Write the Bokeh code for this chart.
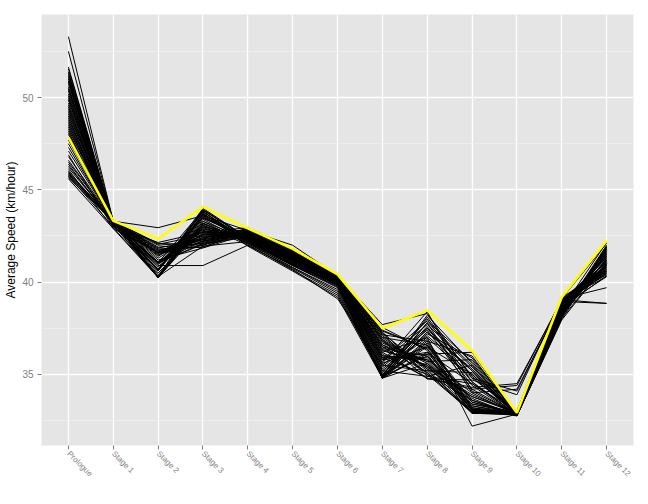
import math
from bokeh.plotting import figure
from bokeh.models import FactorRange, Range1d, FixedTicker
from bokeh.embed import file_html
from bokeh.resources import INLINE

stages = ["Prologue", "Stage 1", "Stage 2", "Stage 3", "Stage 4", "Stage 5", "Stage 6",
          "Stage 7", "Stage 8", "Stage 9", "Stage 10", "Stage 11", "Stage 12"]

# Highlighted rider (yellow)
leader = [47.85, 43.32, 42.35, 44.08, 42.92, 41.8, 40.42, 37.5, 38.47, 36.3, 32.92, 39.18, 42.25]

# Other riders, one list per stage (same rider order in each list)
prologue = [53.3, 52.5, 51.65, 51.55, 51.4, 51.3, 51.2, 51.1, 51.0, 50.9,
            50.85, 50.75, 50.6, 50.5, 50.45, 50.35, 50.2, 50.1, 50.0, 49.9,
            49.85, 49.7, 49.6, 49.5, 49.4, 49.3, 49.2, 49.1, 49.0, 48.9,
            48.8, 48.7, 48.6, 48.5, 48.4, 48.3, 48.2, 48.1, 48.0, 47.7,
            47.5, 47.3, 47.1, 46.9, 46.8, 46.6, 46.5, 46.4, 46.3, 46.2,
            46.1, 46.0, 45.95, 45.9, 45.85, 45.8, 45.75, 45.7, 45.65, 45.6]
stage1 = [43.3, 43.3, 43.3, 43.28, 43.3, 43.3, 43.25, 43.3, 43.3, 43.2,
          43.3, 43.3, 43.28, 43.3, 43.3, 43.15, 43.3, 43.3, 43.3, 43.25,
          43.3, 43.3, 43.1, 43.3, 43.3, 43.3, 43.28, 43.3, 43.05, 43.3,
          43.3, 43.3, 43.2, 43.3, 43.3, 43.3, 43.0, 43.3, 43.3, 43.3,
          43.25, 43.3, 43.3, 42.95, 43.3, 43.3, 43.3, 43.1, 43.3, 43.3,
          42.9, 43.3, 43.3, 43.3, 43.2, 43.3, 43.0, 43.3, 43.3, 42.9]
stage2 = [41.6, 42.95, 41.05, 40.25, 42.1, 40.65, 41.4, 40.25, 41.8, 40.9,
          41.6, 40.3, 42.0, 41.05, 40.65, 40.25, 41.2, 41.7, 40.5, 41.05,
          40.25, 41.9, 40.65, 41.6, 40.3, 41.3, 40.8, 41.05, 42.15, 40.25,
          41.5, 40.65, 41.05, 40.25, 41.75, 40.4, 41.6, 41.0, 40.25, 42.05,
          40.65, 41.1, 41.6, 40.3, 41.85, 40.7, 41.05, 40.25, 41.45, 40.6,
          41.6, 40.25, 41.05, 40.95, 41.65, 40.3, 41.1, 40.65, 41.55, 40.25]
stage3 = [42.3, 43.6, 43.9, 43.5, 42.0, 43.7, 42.8, 43.2, 41.9, 40.9,
          42.5, 43.95, 42.2, 43.0, 43.8, 43.3, 41.85, 42.4, 42.9, 42.6,
          43.4, 42.1, 44.0, 42.35, 41.95, 42.75, 43.85, 42.05, 42.7, 43.1,
          42.15, 43.9, 42.45, 43.6, 41.9, 43.0, 42.85, 43.45, 43.75, 42.55,
          43.65, 42.6, 42.0, 43.2, 42.3, 43.8, 42.25, 42.95, 42.7, 43.5,
          42.5, 43.7, 42.1, 43.05, 42.4, 43.3, 42.65, 43.55, 42.2, 43.15]
stage4 = [42.6, 42.8, 42.4, 42.3, 42.9, 42.2, 42.5, 42.1, 42.7, 42.0,
          42.55, 42.35, 42.85, 42.45, 42.25, 42.05, 42.6, 42.9, 42.3, 42.5,
          42.15, 42.75, 42.4, 42.65, 42.2, 42.5, 42.1, 42.45, 42.95, 42.0,
          42.7, 42.35, 42.55, 42.2, 42.8, 42.4, 42.6, 42.45, 41.95, 42.85,
          42.4, 42.55, 42.75, 42.15, 42.8, 42.3, 42.5, 42.25, 42.65, 42.4,
          42.6, 42.2, 42.5, 42.35, 42.7, 42.3, 42.55, 42.4, 42.7, 42.25]
stage5 = [41.4, 42.0, 41.2, 41.0, 41.7, 40.9, 41.3, 40.8, 41.6, 40.7,
          41.35, 41.1, 41.75, 41.25, 41.0, 40.65, 41.45, 41.7, 41.1, 41.3,
          40.9, 41.65, 41.2, 41.5, 41.0, 41.35, 40.8, 41.25, 41.8, 40.75,
          41.55, 41.15, 41.4, 40.95, 41.6, 41.2, 41.45, 41.3, 40.6, 41.7,
          41.2, 41.35, 41.55, 40.9, 41.65, 41.1, 41.3, 41.05, 41.5, 41.2,
          41.4, 40.95, 41.3, 41.15, 41.55, 41.1, 41.35, 41.25, 41.5, 41.0]
stage6 = [40.3, 40.35, 40.1, 39.9, 40.4, 39.7, 40.2, 39.5, 40.3, 39.1,
          40.25, 40.0, 40.38, 40.15, 39.85, 39.3, 40.3, 40.4, 40.05, 40.2,
          39.8, 40.35, 40.1, 40.3, 39.95, 40.25, 39.6, 40.15, 40.4, 39.4,
          40.3, 40.05, 40.2, 39.9, 40.35, 40.1, 40.3, 40.2, 39.2, 40.38,
          40.15, 40.25, 40.35, 39.75, 40.38, 40.0, 40.25, 39.95, 40.3, 40.1,
          40.3, 39.85, 40.2, 40.05, 40.35, 40.0, 40.25, 40.15, 40.3, 39.9]
stage7 = [36.8, 37.7, 35.0, 34.85, 37.3, 34.8, 36.2, 34.9, 37.0, 35.5,
          36.5, 34.85, 37.2, 35.8, 34.8, 34.9, 36.0, 37.4, 35.2, 36.6,
          34.85, 37.1, 35.6, 36.9, 34.8, 36.3, 35.0, 35.9, 37.55, 34.9,
          36.7, 35.3, 36.1, 34.85, 37.25, 35.7, 36.4, 35.1, 34.8, 37.0,
          35.4, 36.0, 36.8, 34.9, 37.35, 35.5, 36.2, 34.85, 36.5, 35.8,
          36.9, 34.8, 35.9, 35.2, 37.15, 34.95, 36.35, 35.6, 36.6, 34.85]
stage8 = [35.6, 38.3, 37.2, 36.5, 35.0, 37.8, 34.8, 36.0, 35.3, 37.5,
          35.1, 36.8, 34.9, 37.9, 36.2, 38.1, 35.8, 36.4, 37.0, 35.4,
          37.3, 35.2, 38.4, 34.75, 36.1, 35.5, 37.6, 35.0, 36.3, 36.7,
          35.7, 37.1, 34.8, 36.9, 35.3, 37.7, 36.0, 38.0, 35.6, 36.6,
          37.4, 35.9, 35.1, 38.2, 36.4, 35.2, 37.0, 36.6, 35.8, 36.2,
          35.4, 37.3, 36.1, 34.9, 36.8, 37.8, 35.5, 36.5, 35.7, 37.5]
stage9 = [33.1, 34.8, 35.9, 33.5, 32.95, 35.5, 34.2, 32.9, 33.8, 35.2,
          32.9, 36.0, 34.5, 35.7, 33.3, 34.9, 34.0, 33.0, 32.2, 33.9,
          35.3, 33.0, 34.1, 34.7, 36.2, 32.95, 34.4, 33.6, 32.9, 33.2,
          35.8, 35.0, 34.3, 33.15, 32.9, 35.4, 33.4, 34.6, 33.7, 33.0,
          34.2, 33.5, 32.95, 35.6, 33.05, 35.1, 34.8, 33.6, 33.3, 34.5,
          33.4, 35.2, 32.9, 35.5, 33.1, 34.0, 33.8, 35.0, 33.2, 34.6]
stage10 = [32.9, 33.0, 32.85, 32.8, 32.95, 32.75, 34.4, 32.8, 32.95, 32.85,
           32.9, 32.75, 33.0, 32.85, 32.8, 32.8, 34.2, 32.95, 32.85, 32.9,
           32.8, 32.95, 32.85, 33.9, 32.75, 32.9, 32.8, 32.85, 33.0, 32.75,
           32.9, 32.8, 34.5, 32.8, 32.95, 32.85, 32.9, 32.8, 32.75, 32.95,
           32.85, 32.9, 32.95, 32.8, 33.0, 32.85, 34.1, 32.8, 32.9, 32.85,
           32.95, 32.75, 32.85, 32.8, 32.95, 32.8, 32.9, 32.85, 32.9, 32.8]
stage11 = [38.8, 39.1, 38.5, 38.3, 39.0, 38.1, 39.05, 38.2, 38.9, 38.4,
           38.7, 38.0, 39.1, 38.6, 38.3, 38.2, 38.95, 39.05, 38.5, 38.8,
           38.2, 38.95, 38.55, 39.1, 38.1, 38.75, 38.35, 38.6, 39.15, 38.05,
           38.85, 38.45, 39.0, 38.3, 39.0, 38.5, 38.8, 38.4, 37.95, 39.05,
           38.6, 38.7, 38.9, 38.25, 39.1, 38.5, 38.95, 38.35, 38.8, 38.55,
           38.9, 38.15, 38.65, 38.45, 39.0, 38.4, 38.75, 38.5, 38.85, 38.3]
stage12 = [40.6, 42.1, 41.7, 41.2, 40.4, 41.9, 38.85, 41.6, 40.8, 41.0,
           40.3, 41.8, 40.7, 41.5, 42.0, 41.1, 38.85, 40.5, 41.4, 40.9,
           41.3, 40.6, 42.15, 39.7, 41.95, 40.5, 41.2, 40.35, 40.8, 41.0,
           40.7, 41.75, 40.3, 41.6, 40.9, 41.45, 41.1, 41.85, 41.0, 40.6,
           41.65, 40.55, 41.1, 41.9, 40.75, 41.5, 41.3, 41.05, 40.95, 41.4,
           40.45, 41.7, 40.85, 41.25, 40.65, 41.8, 41.15, 40.9, 41.35, 41.55]

y_ticks = [35, 40, 45, 50]
y_minor = [32.5, 37.5, 42.5, 47.5, 52.5]
y_title = "Average Speed (km/hour)"

per_stage = [prologue, stage1, stage2, stage3, stage4, stage5, stage6,
             stage7, stage8, stage9, stage10, stage11, stage12]
riders = [list(r) for r in zip(*per_stage)]

p = figure(width=640, height=496,
           x_range=FactorRange(factors=stages, range_padding=0.1, range_padding_units="absolute"),
           y_range=Range1d(31.15, 54.5),
           output_backend="svg", toolbar_location=None,
           min_border_left=41, min_border_right=7, min_border_top=14, min_border_bottom=51)

p.background_fill_color = "#E5E5E5"
p.border_fill_color = "white"
p.outline_line_color = None

p.multi_line(xs=[stages] * len(riders), ys=riders, line_color="black", line_width=1)
p.line(stages, leader, line_color="#FFFF00", line_width=2.6)

p.yaxis.ticker = FixedTicker(ticks=y_ticks, minor_ticks=y_minor)

for g in (p.xgrid, p.ygrid):
    g.grid_line_color = "white"
    g.grid_line_width = 1.3
p.ygrid.minor_grid_line_color = "#F2F2F2"
p.ygrid.minor_grid_line_width = 0.6

for ax in (p.xaxis, p.yaxis):
    ax.axis_line_color = None
    ax.major_tick_line_color = "#7F7F7F"
    ax.major_tick_out = 4
    ax.major_tick_in = 0
    ax.minor_tick_line_color = None
    ax.major_label_text_color = "#7F7F7F"
    ax.major_label_text_font = "Liberation Sans"

p.xaxis.major_label_standoff = 3
p.xaxis.major_label_text_font_size = "8px"
p.xaxis.major_label_orientation = -math.pi / 4
p.yaxis.major_label_standoff = 4
p.yaxis.major_label_text_font_size = "10px"
p.yaxis.axis_label = y_title
p.yaxis.axis_label_text_font = "Liberation Sans"
p.yaxis.axis_label_text_font_size = "12px"
p.yaxis.axis_label_text_font_style = "normal"
p.yaxis.axis_label_text_color = "black"
p.yaxis.axis_label_text_line_height = 0.7
p.yaxis.axis_label_standoff = 1

open("out.html", "w").write(file_html(p, INLINE))
